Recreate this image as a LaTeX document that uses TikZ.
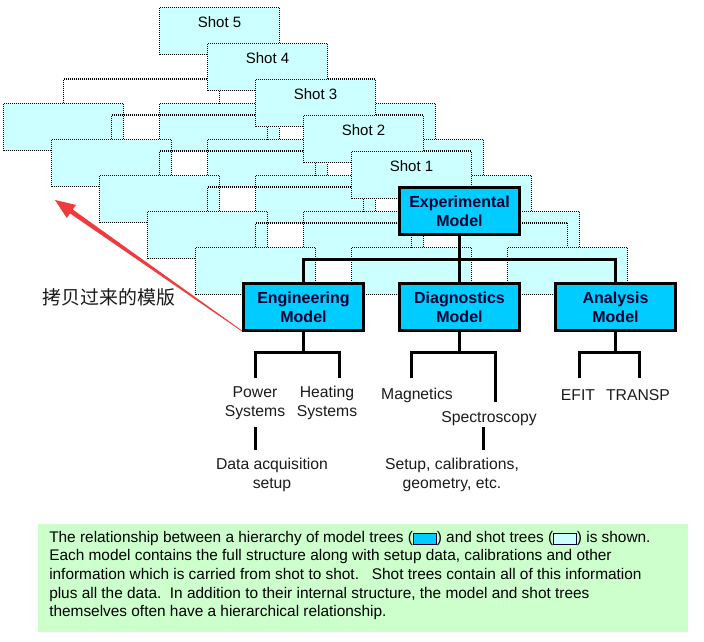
\documentclass[tikz,border=0pt]{standalone}
\usepackage{fontspec}
\setmainfont{Liberation Sans}
\newfontfamily\cjk{Noto Sans CJK SC}
\usetikzlibrary{calc}
\definecolor{shotfill}{HTML}{CCFFFF}
\definecolor{modelfill}{HTML}{00CCFF}
\definecolor{modeltext}{HTML}{000033}
\definecolor{leaftext}{HTML}{1A1A1A}
\definecolor{capfill}{HTML}{CCFFCC}
\definecolor{arrowred}{HTML}{EE3B3B}
\definecolor{icnborder}{HTML}{000033}
\newcommand{\iconbox}[1]{\raisebox{-1.2pt}{\setlength{\fboxsep}{0pt}\setlength{\fboxrule}{0.9pt}\fcolorbox{icnborder}{#1}{\rule{0pt}{7.6pt}\rule{16pt}{0pt}}}}
\begin{document}
\begin{tikzpicture}[x=0.75pt,y=-0.75pt,
  shotbox/.style={draw=black, fill=shotfill, line width=0.75pt, dash pattern=on 0.75pt off 0.75pt,
    minimum width=90pt, minimum height=35.5pt, inner sep=0pt, outer sep=0pt},
  shotline/.style={draw=black, line width=0.75pt, dash pattern=on 0.75pt off 0.75pt},
  shotlabel/.style={inner sep=0pt, font=\fontsize{11.25}{13.5}\selectfont, text=black},
  modelbox/.style={draw=black, fill=modelfill, line width=2.25pt, minimum width=90.5pt,
    minimum height=35.25pt, inner sep=0pt, outer sep=0pt, align=center,
    font=\fontsize{12}{14.25}\selectfont\bfseries, text=modeltext},
  modelline/.style={draw=black, line width=2.25pt},
  leaf/.style={align=center, inner sep=0pt, font=\fontsize{11.8}{14.25}\selectfont, text=leaftext},
  capbox/.style={fill=capfill, draw=none, inner sep=0pt, minimum width=487.5pt, minimum height=81pt},
  captext/.style={align=left, inner sep=0pt, font=\fontsize{11.55}{13.9}\selectfont, text=black},
  note/.style={inner sep=0pt, font=\cjk\fontsize{14.2}{16}\selectfont, text=leaftext}
]
\useasboundingbox (0,0) rectangle (704,642);

% ---------- shot trees (back to front) ----------
\foreach \k in {5,4,3,2,1}{
  \begin{scope}[shift={(-48*\k,-36*\k)}]
    \node[shotbox] (s\k-top) at (459.5,211) {};
    \draw[shotline] (s\k-top.south) -- ++(0,24) coordinate (s\k-bar);
    \draw[shotline] ($(s\k-bar)+(-156,0)$) -- ($(s\k-bar)+(156,0)$);
    \node[shotbox] (s\k-eng) at (303.5,307) {};
    \node[shotbox] (s\k-dia) at (459.5,307) {};
    \node[shotbox] (s\k-ana) at (615.5,307) {};
    \draw[shotline] (s\k-eng.north) -- ++(0,-24) -| (s\k-ana.north);
    \draw[shotline] (s\k-top.south) -- (s\k-dia.north);
    \node[shotlabel] (s\k-lab) at (459.5,202) {Shot \k};
  \end{scope}
}

% ---------- red arrow ----------
\coordinate (arrT) at (55,200);
\coordinate (arrS) at (242,331);
\coordinate (arrH) at ($(arrT)!15pt!(arrS)$);
\fill[arrowred]
  ($(arrS)!0.3pt!90:(arrT)$) --
  ($(arrH)!1.8pt!90:(arrT)$) --
  ($(arrH)!6pt!90:(arrT)$) --
  (arrT) --
  ($(arrH)!6pt!-90:(arrT)$) --
  ($(arrH)!1.8pt!-90:(arrT)$) --
  ($(arrS)!0.3pt!-90:(arrT)$) -- cycle;

% ---------- model tree ----------
\node[modelbox] (exp) at (459.5,211) {Experimental\\Model};
\node[modelbox] (eng) at (303.5,307) {Engineering\\Model};
\node[modelbox] (dia) at (459.5,307) {Diagnostics\\Model};
\node[modelbox] (ana) at (615.5,307) {Analysis\\Model};
\draw[modelline] (eng.north) -- ++(0,-24) -| (ana.north);
\draw[modelline] (exp.south) -- (dia.north);

% ---------- leaves ----------
\node[leaf] (pw) at (255,403) {Power\\Systems};
\node[leaf] (ht) at (327,403) {Heating\\Systems};
\node[leaf] (dq) at (272,475) {Data acquisition\\setup};
\node[leaf] (mg) at (417,395) {Magnetics};
\node[leaf] (sp) at (489,419) {Spectroscopy};
\node[leaf] (st) at (452,475) {Setup, calibrations,\\geometry, etc.};
\node[leaf] (ef) at (578,395) {EFIT};
\node[leaf] (tr) at (638,395) {TRANSP};

\coordinate (pw-in) at (255,378);
\coordinate (ht-in) at (339,378);
\coordinate (mg-in) at (411,378);
\coordinate (sp-in) at (495,402);
\coordinate (ef-in) at (579,378);
\coordinate (tr-in) at (639,378);
\coordinate (pw-out) at (255,427);
\coordinate (dq-in) at (255,450);
\coordinate (sp-out) at (483,427);
\coordinate (st-in) at (483,450);

\draw[modelline] (eng.south) -- ++(0,22) coordinate (eng-j);
\draw[modelline] (pw-in) |- (eng-j) -| (ht-in);
\draw[modelline] (dia.south) -- ++(0,22) coordinate (dia-j);
\draw[modelline] (mg-in) |- (dia-j) -| (sp-in);
\draw[modelline] (ana.south) -- ++(0,22) coordinate (ana-j);
\draw[modelline] (ef-in) |- (ana-j) -| (tr-in);
\draw[modelline] (pw-out) -- (dq-in);
\draw[modelline] (sp-out) -- (st-in);

% ---------- note ----------
\node[note] (cn) at (109,297) {拷贝过来的模版};

% ---------- caption ----------
\node[capbox] (cap) at (363,578) {};
\node[captext, anchor=north west] (captxt) at (49,531) {The relationship between a hierarchy of model trees (\iconbox{modelfill}) and shot trees (\iconbox{shotfill}) is shown.\\
Each model contains the full structure along with setup data, calibrations and other\\
information which is carried from shot to shot.\ \ \ Shot trees contain all of this information\\
plus all the data.\ \ In addition to their internal structure, the model and shot trees\\
themselves often have a hierarchical relationship.};
\end{tikzpicture}
\end{document}
